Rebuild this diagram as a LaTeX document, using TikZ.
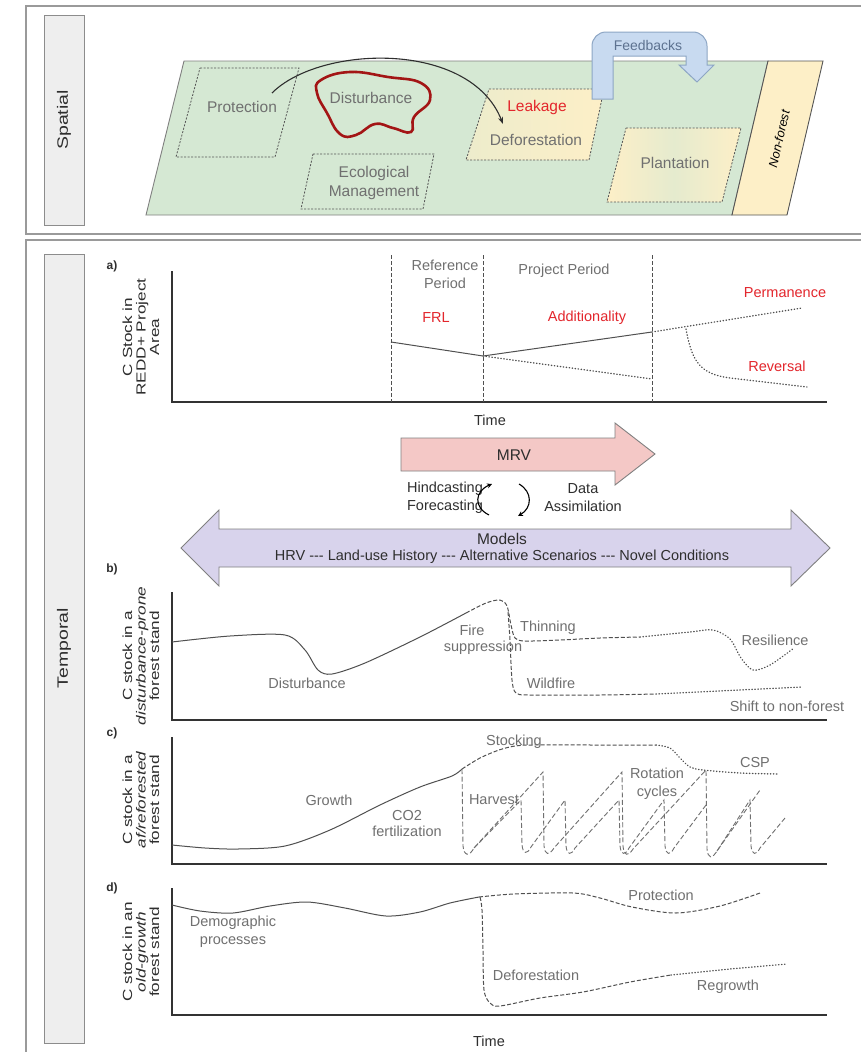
\documentclass[tikz,border=0pt]{standalone}
\usepackage{fontspec}
\setmainfont{Liberation Sans}
\newfontfamily\hf{Liberation Sans}[FakeStretch=1.0]
\newfontfamily\vf{Liberation Sans}[FakeStretch=1.3]
\usetikzlibrary{arrows.meta}
\definecolor{framec}{HTML}{9A9A9A}
\definecolor{boxfill}{HTML}{EEEEEE}
\definecolor{boxdraw}{HTML}{8C8C8C}
\definecolor{txtgray}{HTML}{707070}
\definecolor{redtxt}{HTML}{E3262C}
\definecolor{blobred}{HTML}{A31515}
\definecolor{greenf}{HTML}{D5E8D3}
\definecolor{yellowf}{HTML}{FDEFC7}
\definecolor{fbfill}{HTML}{C8DAF0}
\definecolor{fbdraw}{HTML}{8DA6C4}
\definecolor{fbtxt}{HTML}{5D7290}
\definecolor{mrvfill}{HTML}{F4C8C6}
\definecolor{modfill}{HTML}{D8D3EC}
\definecolor{curvec}{HTML}{505050}
\definecolor{sawc}{HTML}{707070}
\definecolor{axc}{HTML}{333333}
\definecolor{dark}{HTML}{2E2E2E}
\definecolor{dboxc}{HTML}{555555}
\definecolor{shapedraw}{HTML}{808080}
\begin{document}
\begin{tikzpicture}[x=1pt,y=-1pt,
  frame/.style={draw=framec,line width=1.2},
  lblbox/.style={draw=boxdraw,fill=boxfill,line width=1},
  vlab/.style={font=\vf\fontsize{15}{17}\selectfont,rotate=90,text=dark},
  axlab/.style={font=\vf\fontsize{13.2}{13.5}\selectfont,rotate=90,align=center,text=dark},
  sp/.style={font=\fontsize{15.5}{19}\selectfont,text=txtgray,align=center},
  tp/.style={font=\hf\fontsize{14.5}{18}\selectfont,text=txtgray,align=center},
  rd/.style={text=redtxt},
  dk/.style={text=dark},
  dbox/.style={draw=dboxc,line width=0.8,dash pattern=on 2pt off 1.5pt},
  axln/.style={draw=axc,line width=1.3},
  solc/.style={draw=curvec,line width=1},
  dashc/.style={draw=curvec,line width=1,dash pattern=on 4pt off 2pt},
  sawl/.style={draw=sawc,line width=0.9,dash pattern=on 5pt off 2.5pt},
  dotc/.style={draw=curvec,line width=1.4,dash pattern=on 0.4pt off 2.6pt,line cap=round},
  vdash/.style={draw=curvec,line width=0.8,dash pattern=on 4pt off 2pt},
  plab/.style={font=\hf\bfseries\fontsize{12}{14}\selectfont,text=dark},
]
\useasboundingbox (0,0) rectangle (861,1052);
\fill[white] (0,0) rectangle (861,1052);
% ---------- frames ----------
\draw[frame] (870,6) -- (26,6) -- (26,234) -- (870,234);
\draw[frame] (870,240) -- (26,240) -- (26,1060);
\draw[lblbox] (44,15) rectangle (84,225);
\node[vlab] (spatial) at (64,120) {Spatial};
\draw[lblbox] (44,254) rectangle (84,1043);
\node[vlab] (temporal) at (64,648) {Temporal};
% ---------- spatial ----------
\draw[draw=shapedraw,fill=greenf,line width=0.9] (184,61) -- (768,61) -- (732,215) -- (146,215) -- cycle;
\draw[draw=dboxc,fill=yellowf,line width=0.9] (768,61) -- (823,61) -- (787,215) -- (732,215) -- cycle;
\node[font=\itshape\fontsize{12.5}{14}\selectfont,text=black,rotate=77,inner sep=0pt] (nonforest) at (779,139) {Non-forest};
\draw[dbox] (200,68) -- (299,68) -- (275,157) -- (176,157) -- cycle;
\node[sp] (protection) at (242,107) {Protection};
\draw[dbox,left color=greenf!40!yellowf,right color=yellowf] (489,89) -- (604,89) -- (589,160) -- (466,160) -- cycle;
\draw[dbox,left color=yellowf,right color=yellowf,middle color=greenf!60!yellowf] (626,128) -- (741,128) -- (722,202) -- (607,202) -- cycle;
\node[sp] (plantation) at (675,163) {Plantation};
\draw[dbox] (313,154) -- (434,154) -- (423,209) -- (301,209) -- cycle;
\node[sp] (ecomgmt) at (374,183) {Ecological\\Management};
\draw[draw=blobred,line width=2.6] plot[smooth cycle,tension=0.75] coordinates {(321,80) (350,72) (388,77) (421,83) (430,100) (414,117) (411,132) (393,128) (375,124) (356,135) (340,134) (327,113) (317,93)};
\node[sp] (disturbance) at (371,98) {Disturbance};
\node[sp,rd] (leakage) at (537,107) {Leakage};
\node[sp] (deforest) at (536,140) {Deforestation};
\coordinate (arrS) at (272,93);
\coordinate (arrE) at (503,124);
\draw[draw=dark,line width=1.1,-{Stealth[length=7pt,width=5pt]}] (arrS) .. controls (320,45) and (470,40) .. (arrE);
\draw[draw=fbdraw,fill=fbfill,line width=1] (592,99) -- (592,46) arc[start angle=180,end angle=270,radius=14] -- (693,32) arc[start angle=270,end angle=360,radius=14] -- (707,65) -- (714,65) -- (697,82) -- (679,65) -- (686,65) -- (686,56) -- (613,56) -- (613,99) -- cycle;
\node[sp,text=fbtxt,font=\fontsize{14}{16}\selectfont] (feedbacks) at (648,45) {Feedbacks};
% ---------- panel a ----------
\node[plab] (la) at (112,266) {a)};
\node[axlab] (ya) at (141,337) {C Stock in\\REDD+ Project\\Area};
\draw[axln] (172,271) -- (172,402) -- (827,402);
\draw[vdash] (391,255) -- (391,402);
\draw[vdash] (483,255) -- (483,402);
\draw[vdash] (652,255) -- (652,402);
\node[tp] (refp) at (445,274) {Reference\\Period};
\node[tp] (projp) at (564,271) {Project Period};
\node[tp,rd] (frl) at (436,318) {FRL};
\node[tp,rd] (addit) at (587,318) {Additionality};
\node[tp,rd] (perm) at (785,293) {Permanence};
\node[tp,rd] (rev) at (777,366) {Reversal};
\draw[solc] (391,342) -- (483,356) -- (652,332);
\draw[dotc] (483,356) -- (652,379);
\draw[dotc] (652,332) -- (802,308);
\draw[dotc] (686,329) .. controls (692,362) and (700,374) .. (730,378) -- (807,387);
\node[tp,dk] (timea) at (490,420) {Time};
% ---------- MRV ----------
\draw[draw=shapedraw,fill=mrvfill,line width=0.9] (401,438) -- (615,438) -- (615,423) -- (655,454) -- (615,485) -- (615,471) -- (401,471) -- cycle;
\node[tp,dk,font=\hf\fontsize{15.5}{18}\selectfont] (mrv) at (514,455) {MRV};
\node[tp,dk] (hind) at (445,498) {Hindcasting\\Forecasting};
\node[tp,dk] (data) at (583,498) {Data\\Assimilation};
\draw[draw=black,line width=1.1,-{Stealth[length=5pt,width=5pt]}] (489,515) .. controls (473,507) and (475,491) .. (492,484);
\draw[draw=black,line width=1.1,-{Stealth[length=5pt,width=5pt]}] (519,484) .. controls (533,492) and (532,508) .. (518,516);
% ---------- Models ----------
\draw[draw=shapedraw,fill=modfill,line width=0.9] (181,548) -- (219,510) -- (219,529) -- (791,529) -- (791,510) -- (830,548) -- (791,586) -- (791,567) -- (219,567) -- (219,586) -- cycle;
\node[tp,dk,font=\hf\fontsize{15.5}{18}\selectfont] (models) at (502,539) {Models};
\node[tp,dk] (hrv) at (502,557) {HRV --- Land-use History --- Alternative Scenarios --- Novel Conditions};
% ---------- panel b ----------
\node[plab] (lb) at (112,569) {b)};
\node[axlab] (yb) at (141,656) {C stock in a\\\itshape disturbance-prone\\forest stand};
\draw[axln] (172,592) -- (172,720) -- (827,720);
\draw[solc] plot[smooth] coordinates {(172,642) (230,636) (285,635) (305,650) (318,670) (332,674) (365,663) (420,637) (466,613)};
\draw[dashc] plot[smooth] coordinates {(466,613) (486,603) (500,600) (507,606) (511,625) (515,638) (525,641) (560,640) (600,638) (640,637)};
\draw[dashc] plot[smooth] coordinates {(508,612) (510,640) (512,680) (516,693) (530,695) (600,695) (656,694)};
\draw[dotc] plot[smooth] coordinates {(640,637) (690,632) (713,630) (730,639) (741,658) (753,670) (770,665) (794,648)};
\draw[dotc] (656,694) -- (802,687);
\node[tp] (distb) at (307,683) {Disturbance};
\node[tp] (fire) at (472,630) {Fire};
\node[tp] (suppr) at (483,648) {suppression};
\node[tp] (thin) at (548,628) {Thinning};
\node[tp] (resil) at (775,640) {Resilience};
\node[tp] (wild) at (551,683) {Wildfire};
\node[tp] (shift) at (787,706) {Shift to non-forest};
% ---------- panel c ----------
\node[plab] (lc) at (112,733) {c)};
\node[axlab] (yc) at (141,800) {C stock in a\\\itshape af/reforested\\forest stand};
\draw[axln] (172,737) -- (172,864) -- (827,864);
\draw[solc] plot[smooth] coordinates {(172,845) (205,848) (238,849) (285,846) (330,830) (380,805) (420,787) (452,776) (462,769)};
\draw[dashc] plot[smooth] coordinates {(462,769) (480,758) (499,750) (515,746) (533,745) (600,745) (656,745)};
\draw[dotc] plot[smooth] coordinates {(656,745) (670,748) (680,758) (690,767) (703,770) (740,773) (777,774)};
\draw[sawl] (462,769) -- (463,846) .. controls (464,856) and (469,857) .. (474,848) -- (543,772) -- (544,846) .. controls (545,855) and (549,856) .. (554,848) -- (622,772) -- (623,846) .. controls (624,856) and (628,857) .. (633,849) -- (706,770) -- (707,849) .. controls (708,859) and (712,859) .. (717,851) -- (760,790);
\draw[sawl] (474,848) -- (521,800) -- (522,845) .. controls (523,854) and (527,855) .. (531,847) -- (565,800) -- (566,846) .. controls (567,855) and (571,856) .. (575,848) -- (619,800) -- (620,846) .. controls (621,855) and (625,856) .. (629,848) -- (664,800) -- (665,846) .. controls (666,855) and (670,856) .. (674,848) -- (706,805);
\draw[sawl] (717,851) -- (750,800) -- (751,846) .. controls (752,855) and (756,856) .. (760,848) -- (785,818);
\node[tp] (growth) at (329,800) {Growth};
\node[tp] (co2) at (407,815) {CO2};
\node[tp] (fert) at (407,831) {fertilization};
\node[tp] (stock) at (514,742) {Stocking};
\node[tp] (harv) at (494,800) {Harvest};
\node[tp] (rot) at (657,784) {Rotation\\cycles};
\node[tp] (csp) at (755,762) {CSP};
% ---------- panel d ----------
\node[plab] (ld) at (112,888) {d)};
\node[axlab] (yd) at (141,952) {C stock in an\\\itshape old-growth\\forest stand};
\draw[axln] (172,888) -- (172,1015) -- (827,1015);
\draw[solc] plot[smooth] coordinates {(172,905) (200,911) (233,913) (270,906) (307,902) (345,908) (386,916) (420,912) (450,903) (479,897)};
\draw[dashc] plot[smooth] coordinates {(479,897) (514,894) (573,893) (600,898) (632,907) (676,913) (720,906) (760,893)};
\draw[dashc] plot[smooth] coordinates {(480,897) (482,910) (483,950) (484,990) (490,1003) (500,1006) (540,998) (583,992) (630,982) (671,975)};
\draw[dotc] (671,975) -- (730,969) -- (787,964);
\node[tp] (demo) at (233,923) {Demographic};
\node[tp] (proc) at (233,942) {processes};
\node[tp] (protd) at (661,895) {Protection};
\node[tp] (defd) at (536,975) {Deforestation};
\node[tp] (regr) at (728,987) {Regrowth};
\node[tp,dk] (timed) at (489,1041) {Time};
\end{tikzpicture}
\end{document}
